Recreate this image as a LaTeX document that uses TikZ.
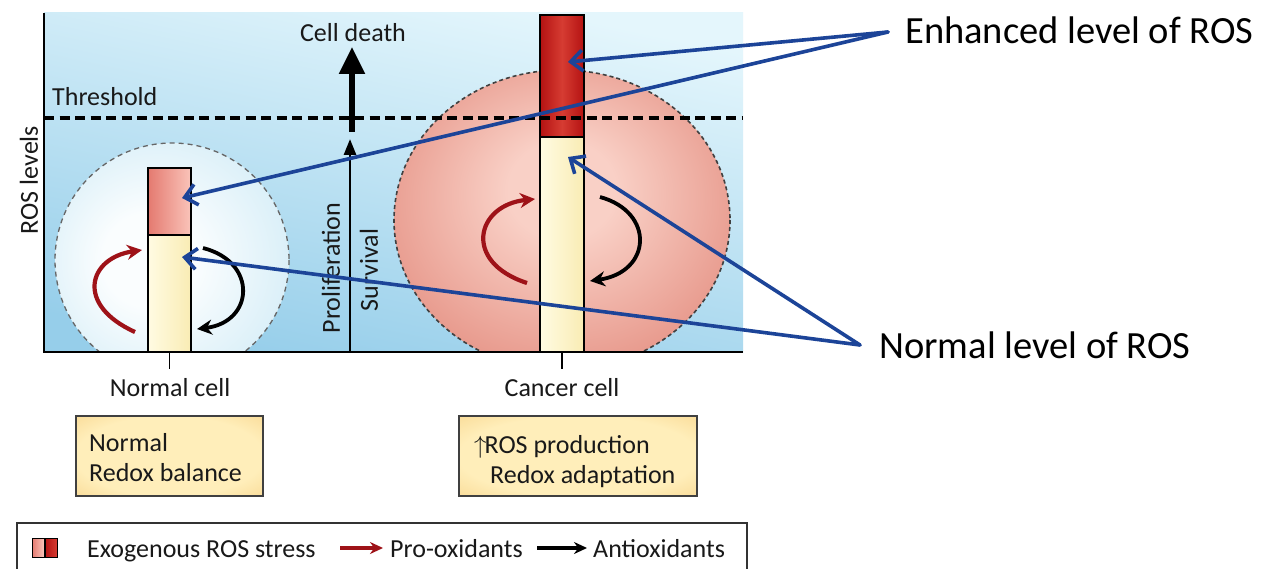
\documentclass[tikz,border=0pt]{standalone}
\usepackage{fontspec}
\setmainfont{Carlito}
\usetikzlibrary{arrows.meta}
\definecolor{bgtop}{RGB}{228,246,252}
\definecolor{bgbot}{RGB}{150,206,234}
\definecolor{cellin}{RGB}{250,253,254}
\definecolor{cellout}{RGB}{180,223,241}
\definecolor{canin}{RGB}{249,208,198}
\definecolor{canout}{RGB}{212,92,76}
\definecolor{cream}{RGB}{255,251,226}
\definecolor{creamB}{RGB}{249,236,180}
\definecolor{pinkA}{RGB}{228,122,112}
\definecolor{pinkB}{RGB}{250,196,186}
\definecolor{dredA}{RGB}{180,18,18}
\definecolor{dredB}{RGB}{214,60,50}
\definecolor{boxin}{RGB}{255,238,186}
\definecolor{boxout}{RGB}{243,198,112}
\definecolor{arrred}{RGB}{158,18,24}
\definecolor{ptrblue}{RGB}{28,68,152}
\definecolor{txt}{RGB}{25,25,25}
\pgfdeclareradialshading{cellshade}{\pgfpoint{-6bp}{0bp}}{color(0bp)=(cellin); color(10bp)=(cellin); color(50bp)=(cellout)}
\pgfdeclareradialshading{canshade}{\pgfpoint{0bp}{6bp}}{color(0bp)=(canin); color(8bp)=(canin); color(50bp)=(canout)}
\pgfdeclareradialshading{boxshade}{\pgfpoint{0bp}{0bp}}{color(0bp)=(boxin); color(25bp)=(boxin); color(50bp)=(boxout); color(72bp)=(boxout)}
\begin{document}
\begin{tikzpicture}[x=1pt,y=-1pt,
  lbl/.style={font=\fontsize{26}{31}\selectfont, text=txt, inner sep=0pt},
  big/.style={font=\fontsize{38.5}{46}\selectfont, text=black, inner sep=0pt},
  barbox/.style={draw=black, line width=1.4pt, inner sep=0pt, rectangle},
  notebox/.style={draw=black!75, line width=1.2pt, shade, shading=boxshade, inner sep=0pt, rectangle},
  redarr/.style={draw=arrred, line width=4.2pt, -{Stealth[length=15pt,width=15pt]}},
  blkarr/.style={draw=black, line width=3.8pt, -{Stealth[length=15pt,width=15pt]}},
  lgred/.style={draw=arrred, line width=3.2pt, -{Stealth[length=13pt,width=12pt]}},
  lgblk/.style={draw=black, line width=3.2pt, -{Stealth[length=13pt,width=12pt]}},
  ptr/.style={draw=ptrblue, line width=3.6pt, -{Straight Barb[length=12pt,width=21pt]}, line cap=round},
]
\useasboundingbox (0,0) rectangle (1265,569);
\fill[white] (0,0) rectangle (1265,569);
% plot background
\shade[top color=bgtop, bottom color=bgbot, shading angle=-12] (44,13) rectangle (743,352);
% cells
\begin{scope}
\clip (44,13) rectangle (743,352);
\path[shade, shading=cellshade, draw=black!60, dash pattern=on 5pt off 4pt, line width=1.3pt] (172,260) circle[radius=117];
\path[shade, shading=canshade, draw=black!75, dash pattern=on 4pt off 3pt, line width=1.6pt] (562,220) ellipse[x radius=168, y radius=150];
\end{scope}
% bars
\node[barbox, minimum width=43pt, minimum height=67pt, left color=pinkA, right color=pinkB] (npink) at (169.5,201.5) {};
\node[barbox, minimum width=43pt, minimum height=117pt, left color=cream, right color=creamB] (nyel) at (169.5,293.5) {};
\node[barbox, minimum width=44pt, minimum height=122pt, left color=dredA, right color=dredA, middle color=dredB] (cred) at (562,76) {};
\node[barbox, minimum width=44pt, minimum height=215pt, left color=cream, right color=creamB] (cyel) at (562,244.5) {};
% redox cycle arrows
\coordinate (nr0) at (135,332); \coordinate (nr1) at (142,250);
\coordinate (nb0) at (203,248); \coordinate (nb1) at (197,329);
\coordinate (cr0) at (527,283); \coordinate (cr1) at (535,199);
\coordinate (cb0) at (600,197); \coordinate (cb1) at (590,281);
\draw[redarr] (nr0) .. controls (75,305) and (88,258) .. (nr1);
\draw[blkarr] (nb0) .. controls (258,262) and (254,322) .. (nb1);
\draw[redarr] (cr0) .. controls (462,262) and (476,205) .. (cr1);
\draw[blkarr] (cb0) .. controls (655,212) and (652,272) .. (cb1);
% threshold
\coordinate (th0) at (44,118); \coordinate (th1) at (742,118);
\draw[line width=3.6pt, dash pattern=on 10pt off 5.5pt] (th0) -- (th1);
\node[lbl, anchor=base west] (thr) at (52,106) {Threshold};
% vertical arrows
\coordinate (cdA) at (352,132); \coordinate (cdB) at (352,47);
\draw[line width=5.5pt, -{Triangle[length=27pt,width=25pt]}] (cdA) -- (cdB);
\coordinate (sv0) at (350,352); \coordinate (sv1) at (350,139);
\draw[line width=2.8pt, -{Triangle[length=16pt,width=12pt]}] (sv0) -- (sv1);
\node[lbl] (celldeath) at (353,33) {Cell death};
\node[lbl, rotate=90] (prolif) at (331,268) {Proliferation};
\node[lbl, rotate=90] (surv) at (369,270) {Survival};
% axes
\coordinate (ax0) at (44,13); \coordinate (ax1) at (44,352); \coordinate (ax2) at (743,352);
\draw[line width=2pt] (ax0) -- (ax1) -- (ax2);
\node[lbl, rotate=90] (roslev) at (29,180) {ROS levels};
\draw[line width=1.5pt] (nyel.south) -- ++(0,16) coordinate (tk1);
\draw[line width=1.5pt] (cyel.south) -- ++(0,16) coordinate (tk2);
\node[lbl] (ncell) at (170,388) {Normal cell};
\node[lbl] (ccell) at (562,388) {Cancer cell};
% note boxes
\node[notebox, minimum width=187pt, minimum height=80pt] (box1) at (169.5,456) {};
\node[notebox, minimum width=238pt, minimum height=80pt] (box2) at (578,456) {};
\node[lbl, anchor=base west] (b1a) at (89,451) {Normal};
\node[lbl, anchor=base west] (b1b) at (89,481) {Redox balance};
\node[lbl, anchor=base west] (b2a) at (474,453) {$\uparrow$\kern-2ptROS production};
\node[lbl, anchor=base west] (b2b) at (490,483) {Redox adaptation};
% legend
\draw[line width=1.3pt, draw=black!80] (17,575) -- (17,523) -- (747,523) -- (747,575);
\node[barbox, line width=1pt, minimum width=12pt, minimum height=19pt, left color=pinkA, right color=pinkB] (lg1) at (38,547.5) {};
\node[barbox, line width=1pt, minimum width=12pt, minimum height=19pt, left color=dredA, right color=dredB] (lg2) at (51,547.5) {};
\node[lbl, anchor=base west] (lgt1) at (87,557) {Exogenous ROS stress};
\coordinate (lr0) at (340,548); \coordinate (lr1) at (383,548);
\draw[lgred] (lr0) -- (lr1);
\node[lbl, anchor=base west] (lgt2) at (390,557) {Pro-oxidants};
\coordinate (lb0) at (537,548); \coordinate (lb1) at (587,548);
\draw[lgblk] (lb0) -- (lb1);
\node[lbl, anchor=base west] (lgt3) at (593,557) {Antioxidants};
% pointer labels
\node[big, anchor=base west] (enhtxt) at (905,44) {Enhanced level of ROS};
\node[big, anchor=base west] (nortxt) at (879,358) {Normal level of ROS};
\coordinate (enh) at (888,32);
\coordinate (nrm) at (860,345);
\coordinate (tE1) at (568,62);
\coordinate (tE2) at (182,198);
\coordinate (tN1) at (568,157);
\coordinate (tN2) at (182,257);
\draw[ptr] (enh) -- (tE1);
\draw[ptr] (enh) -- (tE2);
\draw[ptr] (nrm) -- (tN1);
\draw[ptr] (nrm) -- (tN2);
\end{tikzpicture}
\end{document}
